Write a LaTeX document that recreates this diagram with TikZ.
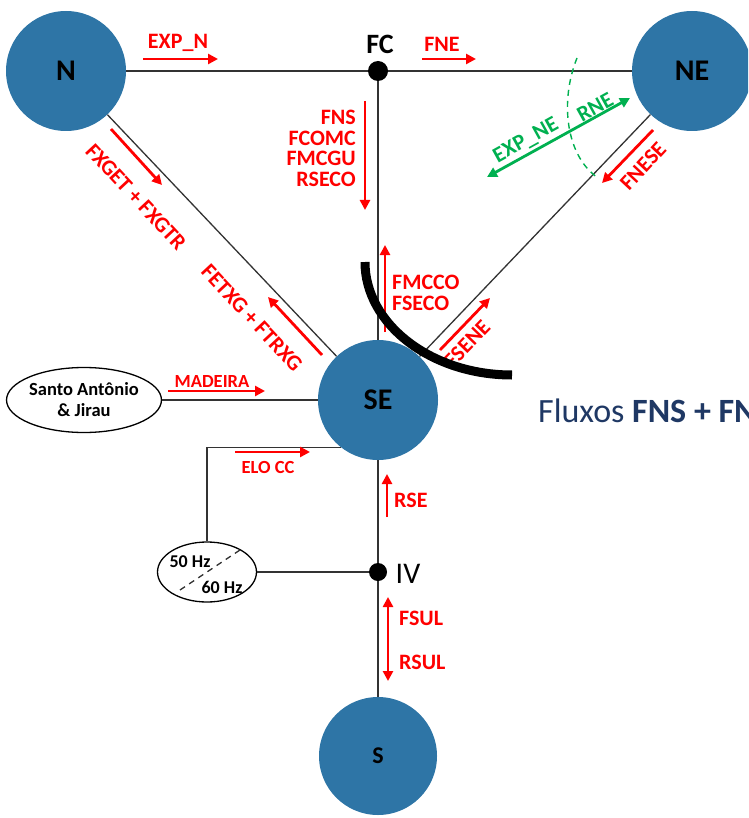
\documentclass[tikz,border=0pt]{standalone}
\usepackage{fontspec}
\setmainfont{Carlito}
\usetikzlibrary{arrows.meta,calc,shapes.geometric}
\definecolor{subcolor}{RGB}{46,117,166}
\definecolor{flowcolor}{RGB}{255,0,0}
\definecolor{expcolor}{RGB}{0,176,80}
\definecolor{textblue}{RGB}{31,56,100}

\tikzset{
  sub/.style={circle, fill=subcolor, minimum size=120pt, inner sep=0pt, font=\bfseries\fontsize{30}{30}\selectfont},
  bus/.style={circle, fill=black, minimum size=20pt, inner sep=0pt},
  line/.style={line width=1.3pt, black!80},
  plant/.style={ellipse, draw, line width=1.3pt, inner sep=0pt, align=center},
  flow/.style={flowcolor, line width=2.8pt, -{Triangle[length=10pt,width=10pt]}},
  flowlbl/.style={flowcolor, inner sep=0pt, font=\bfseries\fontsize{22}{20.5}\selectfont},
  smalllbl/.style={flowcolor, inner sep=0pt, font=\bfseries\fontsize{18.5}{18}\selectfont},
  hzlbl/.style={inner sep=0pt, font=\bfseries\fontsize{18}{18}\selectfont},
}

\begin{document}
\begin{tikzpicture}[x=1pt, y=-1pt]
  \useasboundingbox (0,0) rectangle (748,818);
  \clip (0,0) rectangle (748,818);

  % subsystems and buses
  \node[sub] (n) at (66,71) {N};
  \node[sub] (ne) at (692,71) {NE};
  \node[sub] (se) at (378,400) {SE};
  \node[sub, minimum size=118pt, font=\bfseries\fontsize{24}{24}\selectfont] (s) at (378,756) {S};
  \node[bus] (fc) at (378,71) {};
  \node[bus, minimum size=18pt] (iv) at (378,572) {};
  \node[font=\bfseries\fontsize{28}{28}\selectfont] (fclbl) at (380,44) {FC};
  \node[font=\fontsize{30}{30}\selectfont] (ivlbl) at (408,574) {IV};
  \node[plant, minimum width=116pt, minimum height=65pt, font=\bfseries\fontsize{18.5}{21}\selectfont] (usinas) at (84,400) {Santo Antônio\\\& Jirau};
  \node[plant, minimum width=99pt, minimum height=60pt] (conv) at (207,572) {};
  \node[hzlbl] (hz50) at (190,562) {50 Hz};
  \node[hzlbl] (hz60) at (222,587) {60 Hz};
  \draw[line, dashed, dash pattern=on 6pt off 5pt] (180,590) -- (240,550);

  % interconnections
  \draw[line] (n) -- (fc) -- (ne);
  \draw[line] (fc) -- (se);
  \draw[line] (n) -- (se);
  \draw[line] (ne) -- (se);
  \draw[line] (usinas) -- (se);
  \draw[line] (se) -- (iv) -- (s);
  \draw[line] (conv) -- (iv);
  \draw[line] (se.232) -| (conv.north);

  % flows
  \draw[flow] (143,59) -- (218,59);
  \node[flowlbl, anchor=south] (expn) at (178,52) {EXP\_N};
  \draw[flow] (422,59) -- (476,59);
  \node[flowlbl, anchor=south] (fne) at (442,52) {FNE};
  \draw[flow] (365,101) -- (365,210);
  \node[flowlbl, anchor=north east, align=right] (fns) at (356,110) {FNS\\FCOMC\\FMCGU\\RSECO};
  \draw[flow] (111,129) -- (162,185);
  \node[flowlbl, rotate=-47] (fxget) at (136,197) {FXGET + FXGTR};
  \draw[flow] (322,355) -- (268,297);
  \node[flowlbl, rotate=-47] (fetxg) at (252,318) {FETXG + FTRXG};
  \draw[flow] (385,332) -- (385,245);
  \node[flowlbl, anchor=west, align=left] (fmcco) at (392,293) {FMCCO\\FSECO};
  \draw[flow] (440,350) -- (490,298);
  \node[flowlbl, rotate=46] (fsene) at (467,344) {FSENE};
  \draw[flow] (653,130) -- (602,183);
  \node[flowlbl, rotate=47] (fnese) at (643,166) {FNESE};
  \draw[flow] (168,391) -- (265,391);
  \node[smalllbl] (madeira) at (212,381) {MADEIRA};
  \draw[flow] (235,452) -- (310,452);
  \node[smalllbl] (elo) at (268,467) {ELO CC};
  \draw[flow] (387,517) -- (387,474);
  \node[flowlbl, anchor=west] (rse) at (394,500) {RSE};
  \draw[flow, {Triangle[length=10pt,width=10pt]}-{Triangle[length=10pt,width=10pt]}] (388,597) -- (388,681);
  \node[flowlbl, anchor=west] (fsul) at (399,618) {FSUL};
  \node[flowlbl, anchor=west] (rsul) at (399,662) {RSUL};

  % export NE
  \draw[expcolor, line width=2.8pt, {Triangle[length=10pt,width=10pt]}-{Triangle[length=10pt,width=10pt]}] (487,177) -- (630,98);
  \node[flowlbl, text=expcolor, rotate=29] (expne) at (526,141) {EXP\_NE};
  \node[flowlbl, text=expcolor, rotate=29] (rne) at (595,107) {RNE};
  \draw[expcolor, line width=1.4pt, dashed, dash pattern=on 6pt off 5pt] (577,58) .. controls (560,100) and (565,155) .. (598,178);

  % cut
  \draw[black, line width=9pt] (365,262) .. controls (365,324) and (431,375) .. (512,375);

  \node[anchor=base west, inner sep=0pt, text=textblue, font=\fontsize{34}{34}\selectfont] (fluxos) at (538,422) {Fluxos \textbf{FNS + FNE}};
\end{tikzpicture}
\end{document}
